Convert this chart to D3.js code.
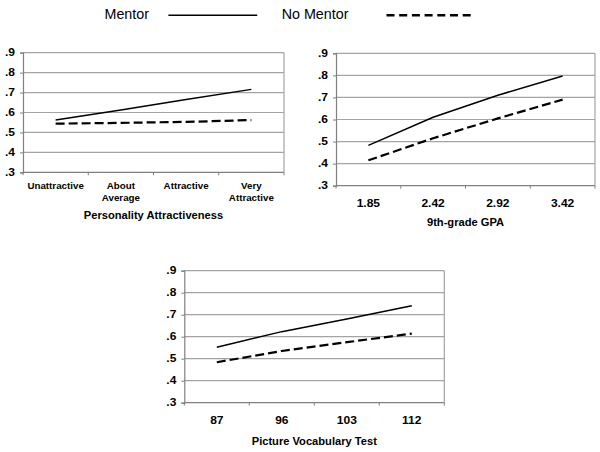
<!DOCTYPE html>
<html>
<head>
<meta charset="utf-8">
<script src="https://cdn.jsdelivr.net/npm/d3@7"></script>
<style>
  html, body { margin: 0; padding: 0; background: #fff; }
  svg { display: block; font-family: Arial, "Liberation Sans", sans-serif; }
</style>
</head>
<body>
<svg id="chart" width="600" height="452"></svg>
<script>
// ---- Data ----
const seriesNames = ["Mentor", "No Mentor"];
const yTickValues = [0.3, 0.4, 0.5, 0.6, 0.7, 0.8, 0.9];

const attractCategories = ["Unattractive", "About Average", "Attractive", "Very Attractive"];
const mentorAttract = [0.562, 0.613, 0.665, 0.716];
const noMentorAttract = [0.544, 0.548, 0.553, 0.562];

const gpaCategories = ["1.85", "2.42", "2.92", "3.42"];
const mentorGPA = [0.483, 0.610, 0.710, 0.797];
const noMentorGPA = [0.415, 0.515, 0.605, 0.690];

const vocabCategories = ["87", "96", "103", "112"];
const mentorVocab = [0.552, 0.623, 0.680, 0.741];
const noMentorVocab = [0.484, 0.535, 0.575, 0.614];

// ---- Drawing ----
const svg = d3.select("#chart");
const fmt = v => d3.format(".1f")(v).replace(/^0/, "");

function stretch(sel, k) {
  sel.each(function () {
    const w = this.getComputedTextLength();
    this.setAttribute("textLength", w * k);
    this.setAttribute("lengthAdjust", "spacingAndGlyphs");
  });
}

function drawPanel(p) {
  const g = svg.append("g");
  const x = d3.scaleBand().domain(p.categories).range([p.left, p.right]);
  const y = d3.scaleLinear().domain([0.3, 0.9]).range([p.bottom, p.top]);

  // gridlines
  g.selectAll("line.grid").data(yTickValues.slice(1)).join("line")
    .attr("x1", p.left).attr("x2", p.right)
    .attr("y1", d => y(d)).attr("y2", d => y(d))
    .attr("stroke", "#a4a4a4").attr("stroke-width", 1.2);
  // right border
  g.append("line").attr("x1", p.right).attr("x2", p.right)
    .attr("y1", y(0.9)).attr("y2", y(0.3))
    .attr("stroke", "#a4a4a4").attr("stroke-width", 1.2);

  // y axis
  const yAxis = d3.axisLeft(y).tickValues(yTickValues).tickFormat(fmt)
    .tickSize(3).tickPadding(5);
  const ya = g.append("g").attr("transform", `translate(${p.left},0)`).call(yAxis);
  ya.select(".domain").attr("stroke", "#808080").attr("stroke-width", 1.2);
  ya.selectAll(".tick line").attr("stroke", "#808080");
  const yl = ya.selectAll(".tick text").attr("font-size", 10).attr("font-weight", "bold")
    .attr("fill", "#000").attr("font-family", "Arial, 'Liberation Sans', sans-serif");
  stretch(yl, 1.2);

  // x axis: ticks at band boundaries
  const xa = g.append("g").attr("transform", `translate(0,${p.bottom})`);
  xa.append("line").attr("x1", p.left).attr("x2", p.right)
    .attr("stroke", "#808080").attr("stroke-width", 1.2);
  const bounds = p.categories.map(c => x(c)).concat([p.right]);
  xa.selectAll("line.t").data(bounds).join("line")
    .attr("x1", d => d).attr("x2", d => d).attr("y1", 0).attr("y2", 3)
    .attr("stroke", "#808080");
  p.categories.forEach(c => {
    const words = p.wrap ? c.split(" ") : [c];
    const cx = x(c) + x.bandwidth() / 2;
    words.forEach((w, i) => {
      const t = xa.append("text")
        .attr("x", cx)
        .attr("y", p.labelOffset + i * 11.5)
        .attr("text-anchor", "middle")
        .attr("font-size", p.labelSize).attr("font-weight", "bold").attr("fill", "#000")
        .text(w);
      stretch(t, p.labelStretch);
    });
  });

  // title
  const tt = g.append("text").attr("x", (p.left + p.right) / 2).attr("y", p.titleY)
    .attr("text-anchor", "middle").attr("font-size", 10.5).attr("font-weight", "bold")
    .attr("fill", "#000").text(p.title);
  stretch(tt, 1.06);

  const line = d3.line()
    .x((d, i) => x(p.categories[i]) + x.bandwidth() / 2)
    .y(d => y(d));

  g.append("path").datum(p.mentor).attr("d", line)
    .attr("fill", "none").attr("stroke", "#000").attr("stroke-width", 1.5);
  g.append("path").datum(p.noMentor).attr("d", line)
    .attr("fill", "none").attr("stroke", "#000").attr("stroke-width", 2.2)
    .attr("stroke-dasharray", "9,4");
}

drawPanel({ categories: attractCategories, mentor: mentorAttract, noMentor: noMentorAttract,
  left: 23, right: 284, top: 52.7, bottom: 172.3, labelOffset: 16.8, labelSize: 9.3, labelStretch: 1.05, wrap: true,
  title: "Personality Attractiveness", titleY: 219 });
drawPanel({ categories: gpaCategories, mentor: mentorGPA, noMentor: noMentorGPA,
  left: 336, right: 595, top: 53.3, bottom: 185.7, labelOffset: 21.2, labelSize: 10, labelStretch: 1.2, wrap: false,
  title: "9th-grade GPA", titleY: 225.5 });
drawPanel({ categories: vocabCategories, mentor: mentorVocab, noMentor: noMentorVocab,
  left: 184.3, right: 444.3, top: 270.7, bottom: 402.7, labelOffset: 21.7, labelSize: 10, labelStretch: 1.2, wrap: false,
  title: "Picture Vocabulary Test", titleY: 444.5 });

// legend
const legend = svg.append("g");
legend.append("text").attr("x", 104.5).attr("y", 18.5).attr("font-size", 14.3)
  .attr("fill", "#000").text(seriesNames[0]);
legend.append("line").attr("x1", 168.4).attr("x2", 257.2).attr("y1", 15.3).attr("y2", 15.3)
  .attr("stroke", "#000").attr("stroke-width", 1.5);
legend.append("text").attr("x", 281.7).attr("y", 18.5).attr("font-size", 14.3)
  .attr("fill", "#000").text(seriesNames[1]);
legend.append("line").attr("x1", 386.5).attr("x2", 470.7).attr("y1", 15.3).attr("y2", 15.3)
  .attr("stroke", "#000").attr("stroke-width", 2.4).attr("stroke-dasharray", "8,4.7");
</script>
</body>
</html>
